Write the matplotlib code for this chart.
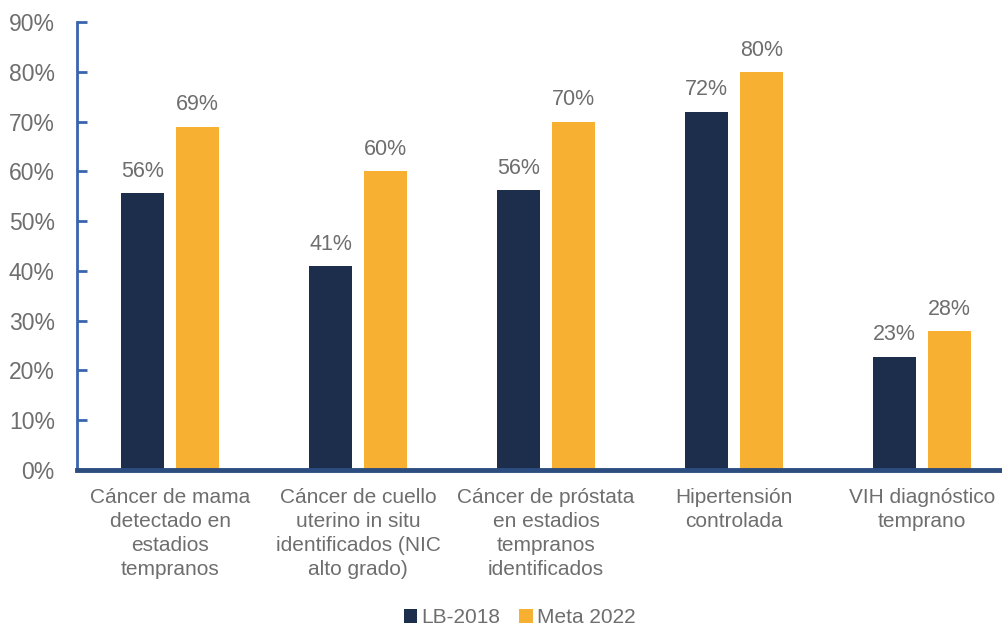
import numpy as np
import matplotlib.pyplot as plt

plt.rcParams['font.family'] = ['Liberation Sans', 'DejaVu Sans']

categories = [
    "Cáncer de mama\ndetectado en\nestadios\ntempranos",
    "Cáncer de cuello\nuterino in situ\nidentificados (NIC\nalto grado)",
    "Cáncer de próstata\nen estadios\ntempranos\nidentificados",
    "Hipertensión\ncontrolada",
    "VIH diagnóstico\ntemprano",
]
lb_2018 = [0.557, 0.41, 0.562, 0.72, 0.228]
meta_2022 = [0.69, 0.60, 0.70, 0.80, 0.28]
series_names = ["LB-2018", "Meta 2022"]

navy = "#1D2E4C"
orange = "#F7B031"
gray = "#6E6E6E"

fig = plt.figure(figsize=(10.03, 6.27), dpi=100)
ax = fig.add_axes([77 / 1003, 1 - 470 / 627, 1 - 77 / 1003, 448 / 627])

x = np.arange(len(categories))
w = 0.228
off = 0.146
b1 = ax.bar(x - off, lb_2018, w, color=navy, label=series_names[0], zorder=2)
b2 = ax.bar(x + off, meta_2022, w, color=orange, label=series_names[1], zorder=2)

for bars, vals in ((b1, lb_2018), (b2, meta_2022)):
    for rect, v in zip(bars, vals):
        ax.annotate(f"{round(v * 100):.0f}%",
                    (rect.get_x() + rect.get_width() / 2, v),
                    xytext=(0, 8), textcoords="offset points",
                    ha="center", va="bottom", fontsize=15.5, color=gray)

ax.set_ylim(0, 0.9)
ax.set_xlim(-0.495, 4.43)
ax.set_yticks(np.arange(0, 0.91, 0.1))
ax.set_yticklabels([f"{t}%" for t in range(0, 91, 10)])
ax.set_xticks(x)
ax.set_xticklabels(categories, linespacing=1.34)

ax.tick_params(axis="y", direction="in", length=7, width=2, color="#3A65AE",
               labelsize=16.5, labelcolor=gray, pad=16)
ax.tick_params(axis="x", length=0, labelsize=15, labelcolor=gray, pad=13)

for s in ("top", "right"):
    ax.spines[s].set_visible(False)
ax.spines["left"].set_color("#3A65AE")
ax.spines["left"].set_linewidth(2)
ax.spines["bottom"].set_color("#2C4D80")
ax.spines["bottom"].set_linewidth(3.5)
ax.spines["bottom"].set_zorder(3)

fig.legend(loc="lower center", bbox_to_anchor=(0.518, -0.03), ncol=2,
           frameon=False, fontsize=15, labelcolor=gray,
           handlelength=0.65, handleheight=0.65, handletextpad=0.2,
           columnspacing=0.9)

fig.savefig("out.png", dpi=100)
